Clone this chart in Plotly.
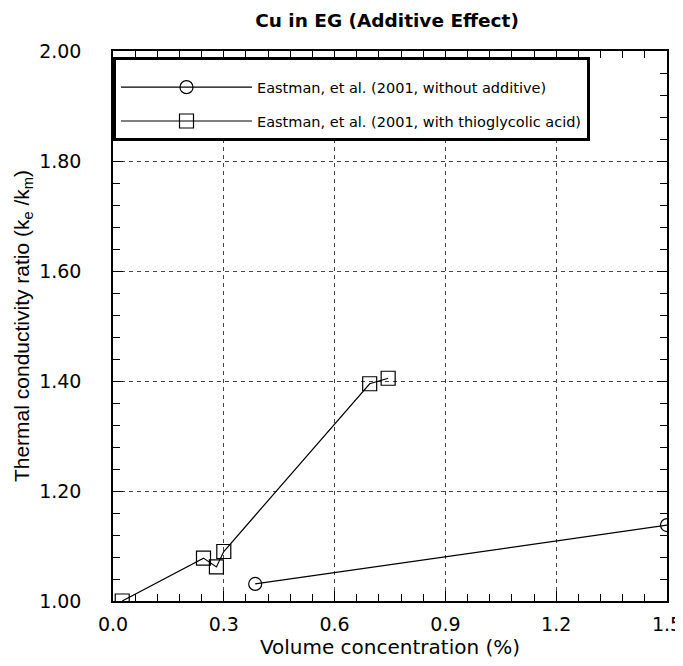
import plotly.graph_objects as go

# Data
without_x = [0.385, 1.50]
without_y = [1.031, 1.138]
with_x = [0.025, 0.245, 0.28, 0.30, 0.695, 0.745]
with_y = [1.000, 1.078, 1.062, 1.090, 1.395, 1.405]

x_ticks = [0.0, 0.3, 0.6, 0.9, 1.2, 1.5]
y_ticks = [1.0, 1.2, 1.4, 1.6, 1.8, 2.0]

WIDE = "DejaVu Sans, Verdana, sans-serif"
NARROW = "Liberation Sans, Arial, sans-serif"

fig = go.Figure()
fig.add_trace(go.Scatter(
    x=without_x, y=without_y, mode="lines+markers",
    name="Eastman, et al. (2001, without additive)", legendgroup="a",
    line=dict(color="black", width=1.2),
    marker=dict(symbol="circle-open", size=13, color="black", line=dict(width=1.2)),
))
fig.add_trace(go.Scatter(
    x=with_x, y=with_y, mode="lines+markers",
    name="Eastman, et al. (2001, with thioglycolic acid)", legendgroup="b",
    line=dict(color="black", width=1.2),
    marker=dict(symbol="square-open", size=14, color="black", line=dict(width=1.2)),
))

fig.update_layout(
    width=675, height=658,
    margin=dict(l=105, r=16, t=43, b=65),
    paper_bgcolor="white", plot_bgcolor="white",
    font=dict(family=WIDE, color="black", size=19),
    title=dict(text="<b>Cu in EG (Additive Effect)</b>", x=0.5615, xanchor="center",
               y=0.981, yanchor="middle", font=dict(family=WIDE, size=18.5)),
    showlegend=True,
    legend=dict(x=0.0, y=0.99, xanchor="left", yanchor="top",
                bgcolor="white", bordercolor="black", borderwidth=3,
                font=dict(family=WIDE, size=14.5), itemwidth=131,
                tracegroupgap=12,
                title=dict(text=" ", font=dict(size=9), side="top")),
)

fig.update_xaxes(
    range=[0, 1.5], tickvals=x_ticks, ticktext=["0.0", "0.3", "0.6", "0.9", "1.2", "1.5"],
    tickfont=dict(family=WIDE, size=19),
    showline=True, linecolor="black", linewidth=1.5, mirror="ticks",
    ticks="inside", ticklen=10, tickcolor="black", ticklabelstandoff=5,
    minor=dict(dtick=0.06, tick0=0, ticks="inside", ticklen=7, tickcolor="black", showgrid=False),
    showgrid=True, gridcolor="#444444", griddash="4px,4px", gridwidth=1.2,
    zeroline=False, automargin=False,
    title=dict(text="Volume concentration (%)", font=dict(family=WIDE, size=20), standoff=6),
)
fig.update_yaxes(
    range=[1.0, 2.0], tickvals=y_ticks, ticktext=["1.00", "1.20", "1.40", "1.60", "1.80", "2.00"],
    tickfont=dict(family=WIDE, size=19),
    showline=True, linecolor="black", linewidth=1.5, mirror="ticks",
    ticks="inside", ticklen=10, tickcolor="black", ticklabelstandoff=26,
    minor=dict(dtick=0.04, tick0=1.0, ticks="inside", ticklen=7, tickcolor="black", showgrid=False),
    showgrid=True, gridcolor="#444444", griddash="4px,4px", gridwidth=1.2,
    zeroline=False, automargin=False,
    title=dict(text="Thermal conductivity ratio (k<sub>e</sub> /k<sub>m</sub>)",
               font=dict(family=NARROW, size=21), standoff=4),
)

fig.write_html("out.html")
